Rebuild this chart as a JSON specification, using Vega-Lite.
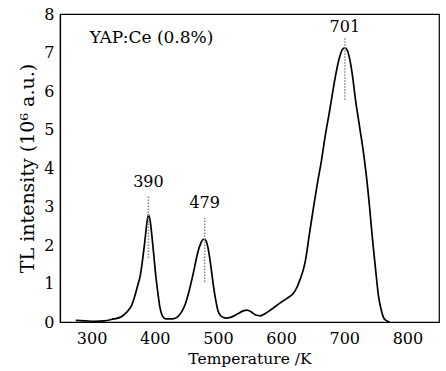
{
  "$schema": "https://vega.github.io/schema/vega-lite/v6.json",
  "width": 379,
  "height": 308,
  "autosize": {"type": "none"},
  "padding": {"left": 60, "top": 14, "right": 7, "bottom": 49},
  "background": "white",
  "config": {
    "view": {"stroke": "black", "strokeWidth": 1.2}
  },
  "datasets": {
    "curve": [
      {"T": 275, "I": 0.04}, {"T": 290, "I": 0.03}, {"T": 305, "I": 0.02}, {"T": 320, "I": 0.03},
      {"T": 335, "I": 0.08}, {"T": 345, "I": 0.12}, {"T": 352, "I": 0.2}, {"T": 358, "I": 0.3},
      {"T": 363, "I": 0.42}, {"T": 368, "I": 0.65}, {"T": 373, "I": 0.95}, {"T": 377, "I": 1.2},
      {"T": 381, "I": 1.65}, {"T": 384, "I": 2.05}, {"T": 387, "I": 2.5}, {"T": 390, "I": 2.78},
      {"T": 393, "I": 2.6}, {"T": 396, "I": 2.15}, {"T": 399, "I": 1.65}, {"T": 402, "I": 1.15},
      {"T": 405, "I": 0.75}, {"T": 408, "I": 0.4}, {"T": 411, "I": 0.2}, {"T": 415, "I": 0.1},
      {"T": 420, "I": 0.08}, {"T": 428, "I": 0.08}, {"T": 435, "I": 0.12}, {"T": 442, "I": 0.25},
      {"T": 448, "I": 0.45}, {"T": 453, "I": 0.72}, {"T": 458, "I": 1.05}, {"T": 463, "I": 1.42},
      {"T": 468, "I": 1.8}, {"T": 473, "I": 2.05}, {"T": 477, "I": 2.15}, {"T": 480, "I": 2.14},
      {"T": 484, "I": 1.95}, {"T": 488, "I": 1.55}, {"T": 492, "I": 1.05}, {"T": 496, "I": 0.62},
      {"T": 500, "I": 0.3}, {"T": 505, "I": 0.15}, {"T": 512, "I": 0.1}, {"T": 520, "I": 0.12},
      {"T": 530, "I": 0.2}, {"T": 540, "I": 0.29}, {"T": 546, "I": 0.31}, {"T": 553, "I": 0.26},
      {"T": 560, "I": 0.18}, {"T": 567, "I": 0.16}, {"T": 575, "I": 0.22}, {"T": 585, "I": 0.33},
      {"T": 598, "I": 0.49}, {"T": 610, "I": 0.62}, {"T": 622, "I": 0.8}, {"T": 630, "I": 1.1},
      {"T": 638, "I": 1.55}, {"T": 645, "I": 2.3}, {"T": 652, "I": 3.05}, {"T": 658, "I": 3.65},
      {"T": 664, "I": 4.2}, {"T": 670, "I": 4.85}, {"T": 677, "I": 5.5}, {"T": 683, "I": 6.1},
      {"T": 688, "I": 6.55}, {"T": 693, "I": 6.9}, {"T": 697, "I": 7.08}, {"T": 701, "I": 7.12},
      {"T": 705, "I": 7.05}, {"T": 709, "I": 6.8}, {"T": 713, "I": 6.4}, {"T": 718, "I": 5.75},
      {"T": 724, "I": 5.1}, {"T": 730, "I": 4.45}, {"T": 735, "I": 3.8}, {"T": 740, "I": 3.0},
      {"T": 745, "I": 2.1}, {"T": 750, "I": 1.3}, {"T": 754, "I": 0.7}, {"T": 758, "I": 0.35},
      {"T": 762, "I": 0.12}, {"T": 766, "I": 0.04}, {"T": 772, "I": 0.0}
    ],
    "marks": [
      {"T": 390, "I": 1.66, "I2": 3.3},
      {"T": 479, "I": 1.04, "I2": 2.7},
      {"T": 701, "I": 5.77, "I2": 7.41}
    ],
    "labels": [
      {"T": 390, "I": 3.64, "label": "390"},
      {"T": 479, "I": 3.09, "label": "479"},
      {"T": 701, "I": 7.67, "label": "701"}
    ],
    "note": [{"T": 297, "I": 7.38, "label": "YAP:Ce (0.8%)"}],
    "xticks": [{"T": 300}, {"T": 400}, {"T": 500}, {"T": 600}, {"T": 700}, {"T": 800}],
    "ymajor": [{"I": 1}, {"I": 2}, {"I": 3}, {"I": 4}, {"I": 5}, {"I": 6}, {"I": 7}],
    "yminor": [{"I": 0.5}, {"I": 1.5}, {"I": 2.5}, {"I": 3.5}, {"I": 4.5}, {"I": 5.5}, {"I": 6.5}, {"I": 7.5}]
  },
  "encoding": {
    "x": {"field": "T", "type": "quantitative", "scale": {"domain": [250, 850], "nice": false},
      "axis": {"title": "Temperature /K", "titleFont": "DejaVu Serif", "titleFontSize": 15.5, "titleFontWeight": "normal", "titleColor": "black",
        "labelFont": "DejaVu Serif", "labelFontSize": 16, "labelColor": "black",
        "values": [300, 400, 500, 600, 700, 800], "grid": false,
        "domainColor": "black", "domainWidth": 1.2, "ticks": false,
        "labelPadding": 8, "titlePadding": 5}},
    "y": {"field": "I", "type": "quantitative", "scale": {"domain": [0, 8], "nice": false},
      "axis": {"title": "TL intensity (10⁶ a.u.)", "titleFont": "DejaVu Serif", "titleFontSize": 19, "titleFontWeight": "normal", "titleColor": "black",
        "labelFont": "DejaVu Serif", "labelFontSize": 16, "labelColor": "black",
        "values": [0, 1, 2, 3, 4, 5, 6, 7, 8],
        "format": "d",
        "labelOverlap": false, "grid": false,
        "domainColor": "black", "domainWidth": 1.2, "ticks": false,
        "labelPadding": 6, "titlePadding": 6}}
  },
  "layer": [
    {
      "data": {"name": "xticks"},
      "mark": {"type": "tick", "orient": "vertical", "size": 16, "thickness": 1.2, "color": "black", "clip": true},
      "encoding": {"y": {"datum": 0}}
    },
    {
      "data": {"name": "ymajor"},
      "mark": {"type": "tick", "orient": "horizontal", "size": 16, "thickness": 1.2, "color": "black", "clip": true},
      "encoding": {"x": {"datum": 250}}
    },
    {
      "data": {"name": "yminor"},
      "mark": {"type": "tick", "orient": "horizontal", "size": 8, "thickness": 1.2, "color": "black", "clip": true},
      "encoding": {"x": {"datum": 250}}
    },
    {
      "data": {"name": "curve"},
      "mark": {"type": "line", "color": "black", "strokeWidth": 1.7, "interpolate": "monotone"}
    },
    {
      "data": {"name": "marks"},
      "mark": {"type": "rule", "color": "#888888", "strokeWidth": 1.5, "strokeDash": [1.5, 1.5]},
      "encoding": {"y2": {"field": "I2"}}
    },
    {
      "data": {"name": "labels"},
      "mark": {"type": "text", "font": "DejaVu Serif", "fontSize": 16, "color": "black", "align": "center", "baseline": "middle"},
      "encoding": {"text": {"field": "label"}}
    },
    {
      "data": {"name": "note"},
      "mark": {"type": "text", "font": "DejaVu Serif", "fontSize": 17, "color": "black", "align": "left", "baseline": "middle"},
      "encoding": {"text": {"field": "label"}}
    }
  ]
}
